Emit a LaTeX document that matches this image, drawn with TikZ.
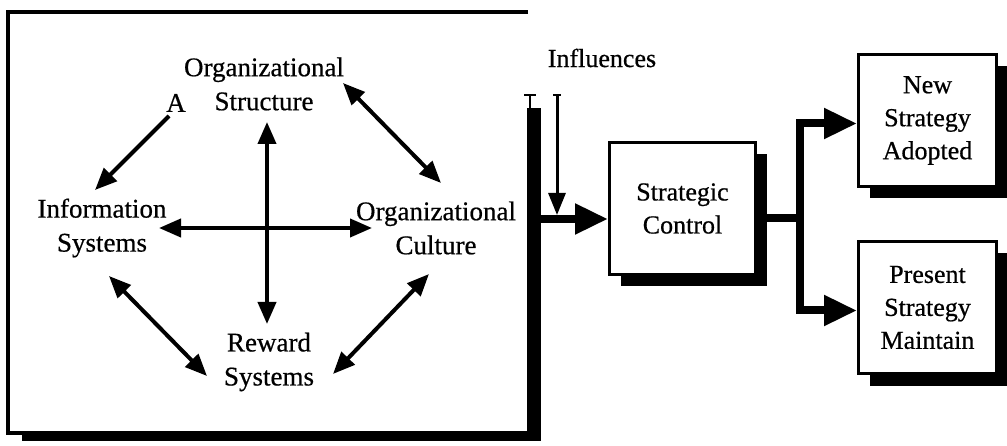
\documentclass[tikz,border=0pt]{standalone}
\usepackage{fontspec}
\setmainfont{Liberation Serif}[FakeBold=0.6]
\usetikzlibrary{arrows.meta,calc,shadows}
\begin{document}
\begin{tikzpicture}[x=1pt,y=-1pt,
  lbl/.style={align=center, font=\fontsize{27}{34}\selectfont, inner sep=2pt},
  dbl/.style={line width=4pt, {Triangle[length=22pt,width=18pt]}-{Triangle[length=22pt,width=18pt]}},
  sgl/.style={line width=4pt, -{Triangle[length=22pt,width=18pt]}},
  thinarrow/.style={line width=3pt, -{Triangle[length=22pt,width=17pt]}},
  fatarrow/.style={line width=8pt, -{Triangle[length=33pt,width=29pt]}},
  fatline/.style={line width=8pt},
  boxn/.style={draw, line width=3pt, fill=white, align=center,
    font=\fontsize{26}{33}\selectfont, minimum width=#1, minimum height=132pt,
    general shadow={fill=black, shadow xshift=11pt, shadow yshift=-12pt}},
]
\useasboundingbox (0,0) rectangle (1007,446);

% big frame
\draw[line width=4pt] (528,12) -- (8,12) -- (8,433) -- (528,433);
\fill (527,108) rectangle (541,441);
\fill (22,432) rectangle (541,441);
\draw[line width=1.5pt] (524,95) -- (536,95) (530,95) -- (530,108);

% left diagram labels
\node[lbl] (os) at (264,84) {Organizational\\Structure};
\node[lbl] (A) at (176,103) {A};
\node[lbl] (is) at (102,228) {Information\\Systems};
\node[lbl] (oc) at (436,228) {Organizational\\Culture};
\node[lbl] (rs) at (269,362) {Reward\\Systems};

% left diagram arrows
\draw[sgl] ($(A)+(-7,13)$) -- ($(is)+(-7,-38)$);
\draw[dbl] ($(os)+(3,38)$) -- ($(rs)+(-2,-38)$);
\draw[dbl] ($(is)+(57,0)$) -- ($(oc)+(-64,0)$);
\draw[dbl] ($(os)+(79,-1)$) -- ($(oc)+(5,-45)$);
\draw[dbl] ($(is)+(7,48)$) -- ($(rs)+(-62,14)$);
\draw[dbl] ($(oc)+(-7,46)$) -- ($(rs)+(64,12)$);

% right side
\node[font=\fontsize{26}{30}\selectfont] (infl) at (602,58) {Influences};
\node[boxn=146pt] (sc) at (682.5,208.5) {Strategic\\Control};
\node[boxn=138pt] (nsa) at (927.5,120.5) {New\\Strategy\\Adopted};
\node[boxn=138pt] (psm) at (927.5,307.5) {Present\\Strategy\\Maintain};

\coordinate (barr) at (541,219);
\coordinate (itop) at (557,95);
\coordinate (imeet) at (557,215);
\coordinate (j) at (800,218);

\draw[line width=1.5pt] (553,95) -- (561,95);
\draw[thinarrow] (itop) -- (imeet);
\draw[fatarrow] (barr) -- (barr -| sc.west);
\draw[fatline] (sc.east |- j) -- (j);
\draw[fatarrow] (j) |- ($(nsa.west)+(0,3)$);
\draw[fatarrow] (j) |- ($(psm.west)+(0,3)$);
\end{tikzpicture}
\end{document}
